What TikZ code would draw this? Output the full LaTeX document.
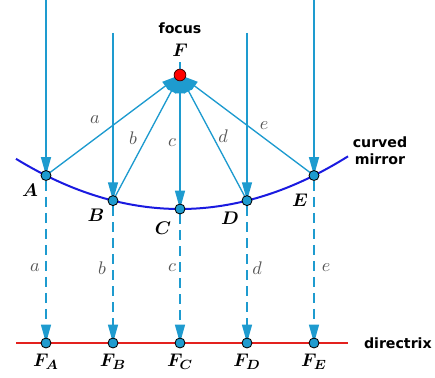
\documentclass[tikz,border=0pt]{standalone}
\usepackage{bm}
\usepackage{fontspec}
\setsansfont{DejaVu Sans}
\usetikzlibrary{arrows.meta,positioning,backgrounds}
\definecolor{rayc}{HTML}{1E9BCF}
\definecolor{mirrorc}{HTML}{1A1AE0}
\definecolor{dirc}{HTML}{E3211E}
\definecolor{segc}{HTML}{555555}

\begin{document}
\begin{tikzpicture}[
    x=0.6pt,y=0.6pt,
    ray/.style={rayc,line width=0.8pt},
    dray/.style={ray,dash pattern=on 6pt off 3.6pt},
    tip/.style={-{Triangle[length=11pt,width=6pt]}},
    pt/.style={circle,draw=black,fill=rayc,line width=0.5pt,minimum size=6pt,inner sep=0pt},
    fpt/.style={circle,draw=black!70!red,fill=red,line width=0.5pt,minimum size=7pt,inner sep=0pt},
    pname/.style={font=\fontsize{11}{13}\selectfont},
    seg/.style={text=segc,font=\fontsize{10.5}{12}\selectfont},
    word/.style={font=\sffamily\bfseries\fontsize{8.5}{10}\selectfont,inner sep=1pt},
  ]
\useasboundingbox (0,0) rectangle (435,377);

% points on the mirror and their feet on the directrix
\foreach \n/\x in {A/46,B/113,C/180,D/247,E/314} {
  \pgfmathsetmacro\y{168+((\x-180)/10)^2/5.36}
  \node[pt] (\n) at (\x,\y) {};
  \node[pt] (F\n) at (\x,34) {};
}
\node[fpt] (F) at (180,302) {};

% where the incoming rays start
\coordinate (topA) at (46,377);
\coordinate (topB) at (113,344);
\coordinate (topC) at (180,315);
\coordinate (topD) at (247,344);
\coordinate (topE) at (314,377);

\begin{scope}[on background layer]
% ======================= mirror and directrix =======================
\draw[mirrorc,line width=1.2pt,domain=16:348,samples=80]
  plot (\x,{168+((\x-180)/10)^2/5.36});
\draw[dirc,line width=1.2pt] (16,34) -- (348,34);

% ======================= rays =======================
\foreach \n in {A,B,D,E} {
  \draw[ray,tip] (top\n) -- (\n.center);
  \draw[ray,tip] (\n.center) -- (F.center);
  \draw[dray,tip] (\n) -- (F\n.center);
}
\draw[ray] (topC) -- (F);
\draw[ray,tip] (F.center) -- (C.center);
\draw[ray,tip] (C.center) -- (F.center);
\draw[dray,tip] (C) -- (FC.center);
\end{scope}

% ======================= labels =======================
\node[pname] (Flbl) at (180,327) {$\bm{F}$};
\node[word,above=1pt of Flbl] {focus};
\node[word,align=center] at (380,226) {curved\\mirror};
\node[word,anchor=west] at (362,34) {directrix};

\node[pname] at (30,187) {$\bm{A}$};
\node[pname] at (96,162) {$\bm{B}$};
\node[pname] at (163,149) {$\bm{C}$};
\node[pname] at (230,159) {$\bm{D}$};
\node[pname] at (300,177) {$\bm{E}$};

\foreach \n/\x in {A/46,B/113,C/180,D/247,E/314}
  \node[pname] at (\x,15) {$\bm{F_\n}$};

% lengths along the reflected rays and the dashed drops
\foreach \l/\x/\y in {a/95/257,b/133/239,c/172/234,d/223/241,e/264/251}
  \node[seg] at (\x,\y) {$\l$};
\foreach \l/\x in {a/35,b/102,c/172,d/257,e/326}
  \node[seg] at (\x,109) {$\l$};

\end{tikzpicture}
\end{document}
